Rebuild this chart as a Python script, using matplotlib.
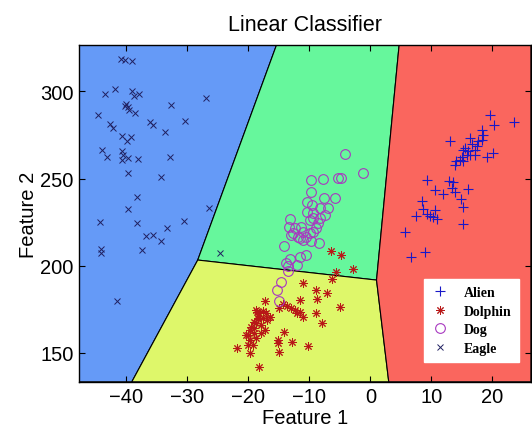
import matplotlib
matplotlib.use('Agg')
import matplotlib.pyplot as plt

# axis ranges
x_range = (-47.8, 26.3)
y_range = (133.3, 326.6)

# decision regions (polygon corners in feature space)
regions = {
    'Eagle':   ([-47.8, -15.4, -28.3, -39.1, -47.8], [326.6, 326.6, 203.2, 133.3, 133.3]),
    'Dog':     ([-15.4, 4.7, 1.0, -28.3], [326.6, 326.6, 191.7, 203.2]),
    'Dolphin': ([-28.3, 1.0, 3.0, -39.1], [203.2, 191.7, 133.3, 133.3]),
    'Alien':   ([4.7, 26.3, 26.3, 3.0, 1.0], [326.6, 326.6, 133.3, 133.3, 191.7]),
}
region_colors = {'Eagle': '#659af7', 'Dog': '#66f79c', 'Dolphin': '#def76a', 'Alien': '#fa665e'}

alien_x = [19.6, 20.3, 23.6, 18.2, 18.5, 18.2, 16.3, 17.7, 17.4, 17.1, 16.6, 15.5, 15.2, 16.0,
           15.8, 16.3, 17.1, 15.0, 14.7, 14.1, 13.9, 15.2, 13.0, 19.1, 20.1, 9.2, 12.8, 13.6,
           13.3, 13.9, 10.6, 11.9, 16.0, 14.8, 15.2, 8.4, 8.65, 7.45, 9.2, 10.3, 10.85, 9.75,
           10.6, 15.2, 5.65, 8.9, 6.6]
alien_y = [286.2, 280.8, 282.2, 277.9, 275.1, 272.2, 273.2, 271.3, 268.4, 266.4, 269.7, 267.4,
           266.4, 265.9, 263.6, 263.6, 263.6, 262.6, 260.7, 259.8, 257.8, 259.8, 271.3, 262.1,
           264.9, 249.2, 248.3, 247.9, 244.4, 242.1, 243.4, 241.1, 244.0, 238.3, 233.5, 237.1,
           232.4, 228.7, 229.5, 228.2, 226.8, 228.7, 232.0, 223.7, 219.5, 207.6, 204.8]

dolphin_x = [-6.4, -4.75, -5.6, -2.8, -6.3, -11.05, -8.85, -7.2, -8.7, -11.6, -5.0, -17.3, -15.0,
             -14.3, -13.7, -12.95, -12.4, -11.6, -11.05, -12.1, -9.0, -7.9, -16.4, -17.6, -18.6,
             -18.7, -18.2, -18.4, -17.6, -17.05, -19.0, -18.4, -17.9, -19.5, -18.7, -19.0, -19.8,
             -20.35, -20.1, -19.0, -17.9, -17.3, -19.8, -18.7, -19.3, -20.1, -19.7, -21.9, -18.2,
             -15.2, -15.2, -14.1, -12.8, -15.0, -10.2, -17.0, -16.5]
dolphin_y = [208.4, 206.1, 196.6, 197.9, 192.1, 189.8, 186.0, 184.1, 180.6, 180.2, 176.4, 179.9,
             175.9, 177.8, 177.0, 175.5, 174.5, 173.6, 170.7, 172.6, 172.6, 166.8, 170.7, 173.9,
             173.2, 174.5, 172.6, 169.7, 169.7, 172.6, 167.8, 169.1, 165.9, 164.9, 166.8, 164.0,
             163.0, 160.1, 160.1, 161.1, 161.1, 163.0, 157.2, 158.2, 154.4, 154.4, 149.6, 152.9,
             142.0, 157.2, 155.3, 162.1, 155.9, 150.6, 154.0, 168.7, 170.3]

dog_x = [-4.25, -1.2, -5.3, -4.9, -9.7, -7.8, -9.8, -7.65, -5.8, -10.4, -9.5, -8.3, -7.0, -10.4,
         -9.4, -7.5, -8.3, -8.6, -13.2, -13.4, -12.4, -11.3, -11.05, -12.7, -11.9, -10.5, -9.95,
         -9.4, -8.85, -9.7, -8.4, -11.05, -11.6, -13.0, -14.1, -10.5, -11.6, -13.2, -13.5, -12.0,
         -9.95, -9.4, -13.8, -13.5, -14.6, -15.3, -15.0]
dog_y = [264.0, 253.0, 250.2, 250.5, 248.9, 249.8, 242.0, 239.1, 239.1, 236.8, 234.8, 233.3,
         232.9, 231.0, 230.1, 229.1, 227.2, 224.3, 226.6, 222.4, 221.8, 222.4, 219.5, 218.6,
         216.7, 216.7, 218.6, 219.5, 221.4, 214.1, 212.8, 214.7, 215.7, 217.6, 211.5, 206.1,
         205.2, 203.8, 200.0, 200.3, 226.2, 227.2, 201.3, 197.1, 190.8, 186.0, 179.7]

eagle_x = [-40.8, -40.3, -39.1, -43.5, -41.8, -39.1, -38.7, -38.0, -40.0, -39.8, -40.2, -39.5,
           -38.6, -32.6, -26.9, -44.6, -42.6, -42.2, -36.1, -35.7, -33.6, -30.4, -40.7, -39.2,
           -39.9, -44.0, -43.1, -40.7, -40.6, -40.7, -39.8, -38.1, -32.9, -39.7, -34.4, -38.3,
           -39.7, -26.4, -44.3, -38.3, -30.5, -33.4, -36.7, -35.6, -34.3, -44.1, -44.1, -37.4,
           -41.5, -24.7]
eagle_y = [318.5, 318.1, 317.7, 298.4, 301.5, 300.0, 297.5, 298.4, 292.7, 290.8, 291.4, 289.4,
           287.4, 292.3, 296.0, 286.4, 281.2, 278.9, 282.3, 280.8, 276.6, 283.1, 274.5, 274.1,
           271.6, 266.4, 262.6, 265.9, 263.6, 260.7, 261.7, 261.3, 262.2, 253.1, 251.0, 239.6,
           232.3, 233.3, 225.3, 224.7, 225.9, 221.4, 217.0, 217.6, 214.2, 209.5, 207.0, 208.8,
           179.6, 207.4]

plt.rcParams['font.family'] = ['Liberation Sans', 'DejaVu Sans']

fig = plt.figure(figsize=(5.32, 4.35), dpi=100)
ax = fig.add_axes([0.148, 0.12, 0.85, 0.774])

for name, (px, py) in regions.items():
    ax.fill(px, py, facecolor=region_colors[name], edgecolor='black', linewidth=0.8, zorder=1)

ax.plot(alien_x, alien_y, linestyle='none', marker='+', color='#1818c8',
        markersize=7.5, markeredgewidth=0.8, label='Alien', zorder=3)
ax.plot(dolphin_x, dolphin_y, linestyle='none', marker=(8, 2, 0), color='#b81818',
        markersize=6, markeredgewidth=0.7, label='Dolphin', zorder=3)
ax.plot(dog_x, dog_y, linestyle='none', marker='o', markerfacecolor='none',
        markeredgecolor='#a838c0', markersize=7, markeredgewidth=0.8, label='Dog', zorder=3)
ax.plot(eagle_x, eagle_y, linestyle='none', marker='x', color='#202060',
        markersize=4.5, markeredgewidth=0.7, label='Eagle', zorder=3)

ax.set_xlim(*x_range)
ax.set_ylim(*y_range)
ax.set_xticks([-40, -30, -20, -10, 0, 10, 20])
ax.set_yticks([150, 200, 250, 300])
ax.tick_params(direction='in', top=True, right=True, labelsize=14.5, length=4, width=0.8)
for s in ax.spines.values():
    s.set_linewidth(1.0)

ax.set_title('Linear Classifier', fontsize=15.5, pad=11)
ax.set_xlabel('Feature 1', fontsize=14.5, labelpad=2)
ax.set_ylabel('Feature 2', fontsize=14.5, labelpad=2)

leg = ax.legend(loc='lower right', bbox_to_anchor=(0.973, 0.06), borderaxespad=0,
                fancybox=False, framealpha=1, edgecolor='white', borderpad=0.5,
                labelspacing=0.4, handletextpad=1.0, handlelength=1.4,
                prop={'family': 'Liberation Serif', 'weight': 'bold', 'size': 10})

plt.savefig('out.png', dpi=100)
